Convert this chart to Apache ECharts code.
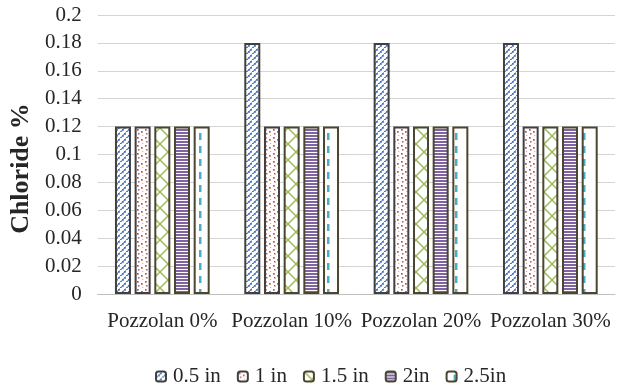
<!DOCTYPE html>
<html>
<head>
<meta charset="utf-8">
<script src="https://cdn.jsdelivr.net/npm/echarts@6/dist/echarts.min.js"></script>
<style>
  html, body { margin: 0; padding: 0; background: #fff; }
  #chart { width: 623px; height: 387px; }
</style>
</head>
<body>
<div id="chart"></div>
<script>
// Chloride content by pozzolan replacement and depth
const categories = ['Pozzolan 0%', 'Pozzolan 10%', 'Pozzolan 20%', 'Pozzolan 30%'];
const seriesNames = ['0.5 in', '1 in', '1.5 in', '2in', '2.5in'];
const depth05 = [0.12, 0.18, 0.18, 0.18];
const depth10 = [0.12, 0.12, 0.12, 0.12];
const depth15 = [0.12, 0.12, 0.12, 0.12];
const depth20 = [0.12, 0.12, 0.12, 0.12];
const depth25 = [0.12, 0.12, 0.12, 0.12];
const yTickLabels = ['0', '0.02', '0.04', '0.06', '0.08', '0.1', '0.12', '0.14', '0.16', '0.18', '0.2'];

const FONT = '"Liberation Serif", "Times New Roman", serif';

function tile(w, h, draw) {
  const c = document.createElement('canvas');
  c.width = w; c.height = h;
  const ctx = c.getContext('2d');
  ctx.fillStyle = '#ffffff';
  ctx.fillRect(0, 0, w, h);
  draw(ctx, w, h);
  return { image: c, repeat: 'repeat' };
}

// dotted diagonal blue lines
const patBlue = tile(6, 6, (ctx) => {
  ctx.fillStyle = '#4472c4';
  for (let i = 0; i < 6; i += 2) {
    ctx.fillRect(i, 5 - i, 1.8, 1.8);
  }
  ctx.fillStyle = 'rgba(68,114,196,0.55)';
  for (let i = 1; i < 6; i += 2) {
    ctx.fillRect(i, 5 - i, 1.3, 1.3);
  }
});
// scattered red dots
const patRed = tile(8, 8, (ctx) => {
  ctx.fillStyle = '#c0504d';
  ctx.fillRect(1, 1, 1.7, 1.7);
  ctx.fillRect(5, 3, 1.7, 1.7);
  ctx.fillRect(2, 5, 1.5, 1.5);
  ctx.fillStyle = 'rgba(192,80,77,0.5)';
  ctx.fillRect(6, 7, 1.2, 1.2);
});
// green lattice
const patGreen = tile(16, 16, (ctx) => {
  ctx.strokeStyle = '#9bbb59';
  ctx.lineWidth = 1.5;
  ctx.beginPath();
  ctx.moveTo(0, 0); ctx.lineTo(16, 16);
  ctx.moveTo(16, 0); ctx.lineTo(0, 16);
  ctx.stroke();
});
// purple horizontal stripes
const patPurple = tile(4, 3, (ctx) => {
  ctx.fillStyle = '#8064a2';
  ctx.fillRect(0, 0, 4, 2);
});
// cyan vertical dashes
const patCyan = tile(16, 13, (ctx) => {
  ctx.fillStyle = '#4bacc6';
  ctx.fillRect(7, 3, 2.5, 7);
});

const fills = [patBlue, patRed, patGreen, patPurple, patCyan];
const borders = ['#404040', '#404040', '#4a4630', '#4a4630', '#4a4630'];
const values = [depth05, depth10, depth15, depth20, depth25];

const chart = echarts.init(document.getElementById('chart'), null, { renderer: 'canvas' });

chart.setOption({
  animation: false,
  grid: { left: 95, right: 8, top: 15, bottom: 93, containLabel: false },
  legend: {
    top: 361,
    left: 150,
    itemWidth: 10,
    itemHeight: 10,
    itemGap: 16,
    textStyle: { fontFamily: FONT, fontSize: 21, color: '#262626', padding: [0, 0, 0, 2] },
    data: seriesNames
  },
  xAxis: {
    type: 'category',
    data: categories,
    axisLine: { lineStyle: { color: '#bfbfbf', width: 1 } },
    axisTick: { show: false },
    axisLabel: { interval: 0, fontFamily: FONT, fontSize: 21, color: '#262626', margin: 17 }
  },
  yAxis: {
    type: 'value',
    min: 0,
    max: 0.2,
    interval: 0.02,
    name: 'Chloride %',
    nameLocation: 'middle',
    nameGap: 59,
    nameTextStyle: {
      fontFamily: FONT, fontSize: 26, fontWeight: 'bold', color: '#262626',
      padding: [0, 28, 0, 0]
    },
    axisLine: { show: false },
    axisTick: { show: false },
    splitLine: { lineStyle: { color: '#d4d4d4', width: 1 } },
    axisLabel: {
      fontFamily: FONT, fontSize: 21, color: '#262626', margin: 16,
      formatter: (v) => yTickLabels[Math.round(v / 0.02)]
    }
  },
  series: seriesNames.map((name, i) => ({
    name: name,
    type: 'bar',
    data: values[i],
    barWidth: 16,
    barGap: '23%',
    itemStyle: { color: fills[i], borderColor: borders[i], borderWidth: 2 }
  }))
});
</script>
</body>
</html>
